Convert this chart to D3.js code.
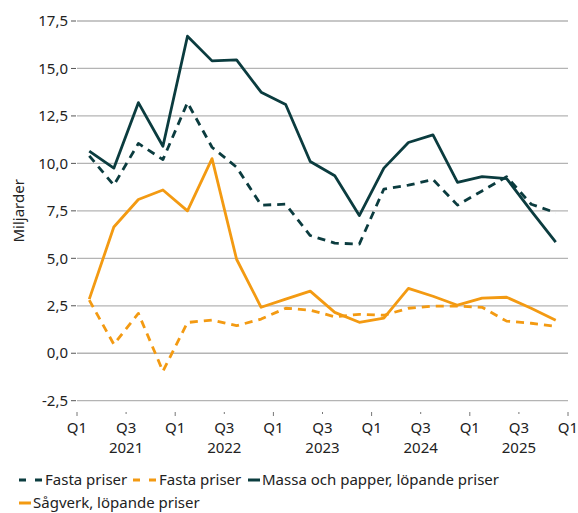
<!DOCTYPE html>
<html>
<head>
<meta charset="utf-8">
<script src="https://cdn.jsdelivr.net/npm/d3@7"></script>
<style>
  body { margin: 0; background: #fff; }
  svg { display: block; font-family: "Noto Sans", "Open Sans", sans-serif; }
</style>
</head>
<body>
<svg id="chart"></svg>
<script>
// Quarters 2021Q1 .. 2025Q4
var years = ["2021", "2022", "2023", "2024", "2025"];
var quarters = ["Q1", "Q2", "Q3", "Q4"];
var yTicks = [-2.5, 0, 2.5, 5, 7.5, 10, 12.5, 15, 17.5];

// Massa och papper
var massaLopande = [10.65, 9.75, 13.2, 10.9, 16.7, 15.4, 15.45, 13.75, 13.1, 10.1, 9.35, 7.25, 9.75, 11.1, 11.5, 9.0, 9.3, 9.2, 7.5, 5.85];
var massaFasta = [10.4, 8.85, 11.05, 10.2, 13.2, 10.85, 9.8, 7.8, 7.85, 6.2, 5.8, 5.75, 8.65, 8.85, 9.15, 7.8, 8.55, 9.3, 7.85, 7.4];
// Sågverk
var sagLopande = [2.85, 6.65, 8.1, 8.6, 7.5, 10.25, 4.95, 2.42, 2.85, 3.27, 2.15, 1.63, 1.85, 3.42, 3.0, 2.53, 2.9, 2.95, 2.37, 1.74];
var sagFasta = [2.8, 0.47, 2.1, -0.95, 1.62, 1.75, 1.45, 1.8, 2.37, 2.27, 1.92, 2.05, 2.0, 2.37, 2.48, 2.48, 2.42, 1.69, 1.58, 1.42];

var dark = "#0b3c3f", orange = "#f39a12";

var width = 578, height = 513;
var margin = { top: 21, right: 10, bottom: 112, left: 77 };

var svg = d3.select("#chart")
  .attr("width", width)
  .attr("height", height);

var cats = [];
years.forEach(function(y) {
  quarters.forEach(function(q) { cats.push(y + q); });
});

var x = d3.scaleBand()
  .domain(cats)
  .range([margin.left, 568]);

var y = d3.scaleLinear()
  .domain([-2.5, 17.5])
  .range([400.7, margin.top]);

// gridlines + y labels
var grid = svg.append("g");
yTicks.forEach(function(t) {
  grid.append("line")
    .attr("x1", x.range()[0]).attr("x2", x.range()[1])
    .attr("y1", y(t)).attr("y2", y(t))
    .style("stroke", "#b4b4b4")
    .style("stroke-width", 1.3);
  grid.append("line")
    .attr("x1", 71).attr("x2", 76)
    .attr("y1", y(t)).attr("y2", y(t))
    .style("stroke", "#555")
    .style("stroke-width", 1);
  grid.append("text")
    .attr("x", 68)
    .attr("y", y(t))
    .attr("dy", "0.35em")
    .attr("text-anchor", "end")
    .style("font-size", "15px")
    .style("fill", "#222")
    .text(d3.format(".1f")(t).replace(".", ",").replace("−", "-"));
});

// y title
svg.append("text")
  .attr("transform", "translate(24," + (y(7.5)) + ") rotate(-90)")
  .attr("text-anchor", "middle")
  .style("font-size", "15px")
  .style("fill", "#222")
  .text("Miljarder");

// x ticks: every second quarter boundary, plus the end
var tickPos = [];
cats.forEach(function(c, i) {
  if (i % 2 === 0) tickPos.push({ x: x(c), label: quarters[i % 4] });
});
tickPos.push({ x: x.range()[1], label: "Q1" });

var xa = svg.append("g");
tickPos.forEach(function(t) {
  xa.append("line")
    .attr("x1", t.x).attr("x2", t.x)
    .attr("y1", 412).attr("y2", t.label === "Q1" ? 416 : 414)
    .style("stroke", "#777")
    .style("stroke-width", 1);
  xa.append("text")
    .attr("x", t.x)
    .attr("y", 433)
    .attr("text-anchor", "middle")
    .style("font-size", "15px")
    .style("fill", "#222")
    .text(t.label);
});
years.forEach(function(yr) {
  xa.append("text")
    .attr("x", x(yr + "Q3"))
    .attr("y", 453)
    .attr("text-anchor", "middle")
    .style("font-size", "15px")
    .style("fill", "#222")
    .text(yr);
});

// lines
var line = d3.line()
  .x(function(d, i) { return x(cats[i]) + x.bandwidth() / 2; })
  .y(function(d) { return y(d); });

var series = [
  { values: sagFasta, color: orange, dash: "8,6" },
  { values: sagLopande, color: orange, dash: null },
  { values: massaFasta, color: dark, dash: "8,6" },
  { values: massaLopande, color: dark, dash: null }
];

series.forEach(function(s) {
  svg.append("path")
    .datum(s.values)
    .attr("d", line)
    .style("fill", "none")
    .style("stroke", s.color)
    .style("stroke-width", 2.8)
    .style("stroke-linejoin", "round")
    .style("stroke-dasharray", s.dash);
});

// legend
var legendItems = [
  { label: "Fasta priser", color: dark, dash: true, x: 19, y: 480 },
  { label: "Fasta priser", color: orange, dash: true, x: 133, y: 480 },
  { label: "Massa och papper, löpande priser", color: dark, dash: false, x: 248, y: 480 },
  { label: "Sågverk, löpande priser", color: orange, dash: false, x: 19, y: 503 }
];

var legend = svg.append("g");
legendItems.forEach(function(d) {
  var w = d.dash ? 24 : 12;
  legend.append("line")
    .attr("x1", d.x).attr("x2", d.x + w)
    .attr("y1", d.y).attr("y2", d.y)
    .style("stroke", d.color)
    .style("stroke-width", 3)
    .style("stroke-dasharray", d.dash ? "7,9" : null);
  legend.append("text")
    .attr("x", d.x + w + 2)
    .attr("y", d.y)
    .attr("dy", "0.35em")
    .style("font-size", "15px")
    .style("fill", "#222")
    .text(d.label);
});
</script>
</body>
</html>
